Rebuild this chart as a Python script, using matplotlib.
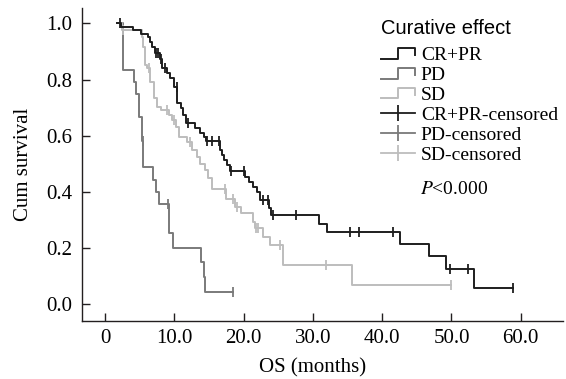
import numpy as np
import matplotlib
matplotlib.use("Agg")
import matplotlib.pyplot as plt
from matplotlib.lines import Line2D
from matplotlib.legend_handler import HandlerBase
from matplotlib.font_manager import FontProperties

# Kaplan-Meier step data (time in months, cumulative survival)
crpr_t = [1.7, 2.3, 4.0, 5.2, 6.2, 6.5, 6.8, 7.2, 7.9, 8.2, 9.0, 9.4, 9.9, 10.4, 10.9,
          11.3, 11.7, 13.0, 13.7, 14.2, 14.5, 16.6, 16.9, 17.1, 17.6, 18.0, 20.2, 20.7,
          21.4, 21.9, 22.4, 23.6, 24.0, 30.9, 32.0, 42.6, 46.8, 49.2, 53.2]
crpr_s = [1.0, 0.988, 0.976, 0.964, 0.952, 0.934, 0.917, 0.893, 0.875, 0.84, 0.822, 0.804,
          0.774, 0.715, 0.697, 0.673, 0.646, 0.628, 0.608, 0.594, 0.58, 0.55, 0.531, 0.513,
          0.495, 0.475, 0.453, 0.436, 0.418, 0.40, 0.37, 0.341, 0.317, 0.285, 0.258, 0.214,
          0.171, 0.125, 0.059]
crpr_c = [2.1, 7.4, 7.6, 8.0, 8.6, 10.3, 12.0, 14.7, 15.4, 16.4, 18.2, 20.0, 22.8, 23.5,
          24.3, 27.6, 35.3, 36.6, 41.6, 49.8, 52.4, 58.9]

pd_t = [1.7, 2.55, 4.1, 4.5, 4.9, 5.3, 5.5, 6.9, 7.4, 7.8, 9.2, 9.8, 13.8, 14.2, 14.4]
pd_s = [1.0, 0.834, 0.79, 0.75, 0.667, 0.58, 0.489, 0.444, 0.40, 0.356, 0.252, 0.20,
        0.151, 0.097, 0.045]
pd_c = [5.4, 9.1, 18.4]

sd_t = [1.7, 2.4, 5.3, 5.5, 5.7, 6.0, 6.5, 7.0, 7.5, 8.0, 9.2, 9.6, 10.2, 10.6, 11.8,
        12.6, 13.2, 13.7, 14.4, 14.9, 15.4, 17.5, 18.8, 19.6, 21.3, 21.6, 22.8, 23.8,
        25.7, 35.7]
sd_s = [1.0, 0.975, 0.95, 0.917, 0.851, 0.84, 0.79, 0.733, 0.703, 0.691, 0.673, 0.655,
        0.632, 0.596, 0.578, 0.549, 0.525, 0.50, 0.477, 0.448, 0.41, 0.376, 0.347, 0.323,
        0.293, 0.272, 0.24, 0.21, 0.139, 0.067]
sd_c = [2.6, 6.3, 9.0, 10.0, 12.3, 17.3, 18.5, 19.0, 21.8, 22.0, 25.3, 31.9, 49.9]

groups = ['CR+PR', 'PD', 'SD']
colors = {'CR+PR': '#1e1e1e', 'PD': '#7a7a7a', 'SD': '#bdbdbd'}

xticks = [0, 10, 20, 30, 40, 50, 60]
xticklabels = ['0', '10.0', '20.0', '30.0', '40.0', '50.0', '60.0']
yticks = [0.0, 0.2, 0.4, 0.6, 0.8, 1.0]


class StepHandler(HandlerBase):
    def create_artists(self, legend, orig_handle, xdescent, ydescent,
                       width, height, fontsize, trans):
        xs = np.array([0, 0.5, 0.5, 1.0, 1.0]) * width - xdescent
        ys = np.array([0.1, 0.1, 0.85, 0.85, 0.35]) * height - ydescent
        ln = Line2D(xs, ys, color=orig_handle.get_color(),
                    lw=orig_handle.get_linewidth(), transform=trans)
        return [ln]


plt.rcParams['font.family'] = ['Liberation Serif', 'DejaVu Serif']
plt.rcParams['mathtext.fontset'] = 'stix'

fig = plt.figure(figsize=(5.66, 3.79), dpi=100)
ax = fig.add_axes([82.3 / 566, 1 - 321 / 379, (563 - 82.3) / 566, (321 - 8) / 379])

data = {'CR+PR': (crpr_t, crpr_s, crpr_c),
        'PD': (pd_t, pd_s, pd_c),
        'SD': (sd_t, sd_s, sd_c)}

for g, z in zip(['PD', 'SD', 'CR+PR'], [2, 3, 4]):
    t, s, c = data[g]
    xs = list(t) + [max(c[-1], t[-1])]
    ys = list(s) + [s[-1]]
    ax.step(xs, ys, where='post', color=colors[g], lw=1.4, zorder=z)
    idx = np.searchsorted(t, c, side='right') - 1
    cy = np.array(s)[idx]
    ax.plot(c, cy, ls='none', marker='|', ms=7.5, mew=1.3, color=colors[g], zorder=z)

ax.set_xlim(-3.3, 66.1)
ax.set_ylim(-0.06, 1.055)
ax.set_xticks(xticks)
ax.set_xticklabels(xticklabels)
ax.set_yticks(yticks)
ax.set_yticklabels(['%.1f' % v for v in yticks])
ax.tick_params(direction='in', length=5.5, width=1.0, labelsize=15, color='#231f20')
ax.tick_params(axis='x', pad=6)
ax.tick_params(axis='y', pad=7)
for sp in ['top', 'right']:
    ax.spines[sp].set_visible(False)
for sp in ['left', 'bottom']:
    ax.spines[sp].set_linewidth(1.0)
    ax.spines[sp].set_color('#231f20')

ax.set_xlabel('OS (months)', fontsize=15)
ax.set_ylabel('Cum survival', fontsize=15)
ax.xaxis.set_label_coords((313 - 82.3) / (563 - 82.3), -0.118)
ax.yaxis.set_label_coords(-0.103, 0.5)

step_h = [Line2D([], [], color=colors[g], lw=1.4) for g in groups]
cens_h = [Line2D([0, 1], [0, 0], color=colors[g], lw=1.3, marker='|', ms=11, mew=1.3)
          for g in groups]
labels = groups + [g + '-censored' for g in groups]
hmap = {h: StepHandler() for h in step_h}
leg = ax.legend(step_h + cens_h, labels, handler_map=hmap,
                loc='upper left', bbox_to_anchor=(381 / 566, 1 - 19 / 379),
                bbox_transform=fig.transFigure, frameon=False,
                fontsize=14, handlelength=1.75, handletextpad=0.3,
                labelspacing=0.12, borderpad=0, borderaxespad=0,
                title='Curative effect', alignment='left',
                title_fontproperties=FontProperties(family='Liberation Sans', size=14.5))
leg._legend_box.sep = 6.0

fig.text(420 / 566, 1 - 190 / 379, '$P$<0.000', fontsize=14, va='center', ha='left')

fig.savefig('out.png', dpi=100)
